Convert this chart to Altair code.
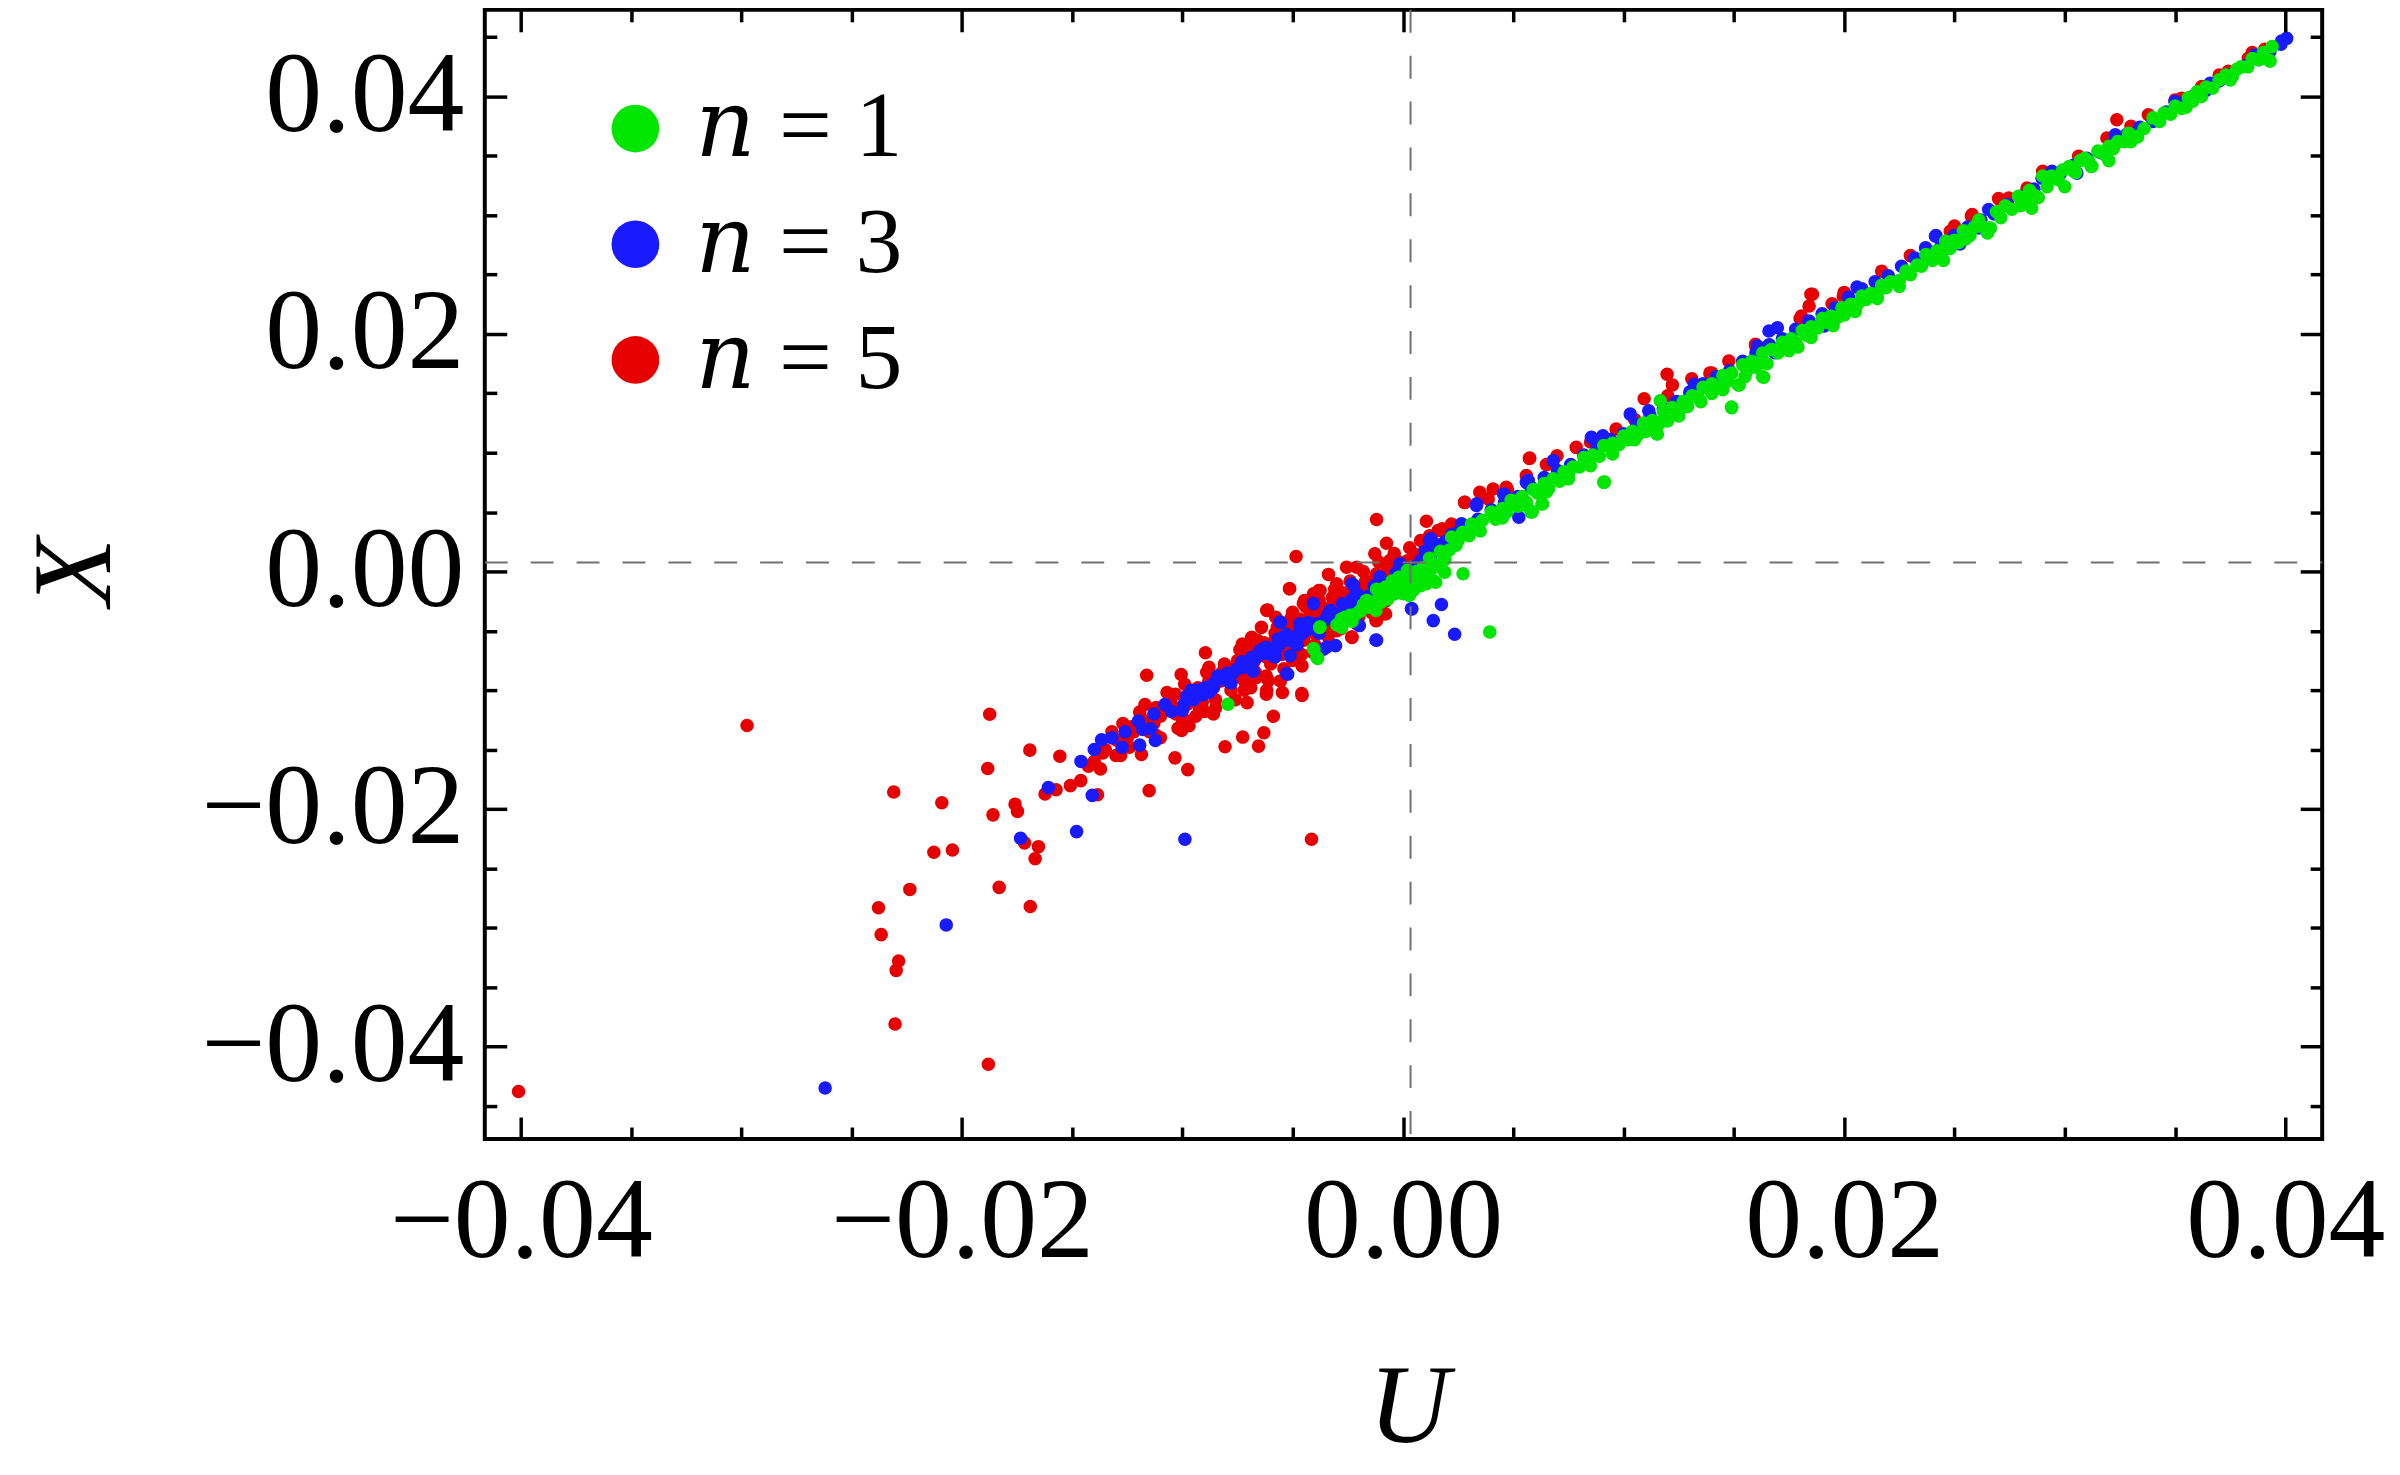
import altair as alt
import pandas as pd

# ---------------- data ----------------
series_labels = ["\U0001D45B = 1", "\U0001D45B = 3", "\U0001D45B = 5"]
series_colors = ["#00e600", "#1a1aff", "#e60000"]

x_major = [-0.04, -0.02, 0.0, 0.02, 0.04]
y_major = [-0.04, -0.02, 0.0, 0.02, 0.04]
x_ticks = [-0.04, -0.035, -0.03, -0.025, -0.02, -0.015, -0.01, -0.005, 0.0,
           0.005, 0.01, 0.015, 0.02, 0.025, 0.03, 0.035, 0.04]
y_ticks = [-0.045, -0.04, -0.035, -0.03, -0.025, -0.02, -0.015, -0.01, -0.005, 0.0,
           0.005, 0.01, 0.015, 0.02, 0.025, 0.03, 0.035, 0.04, 0.045]
u_domain = [-0.04163, 0.04167]
x_domain = [-0.0478, 0.0473]
u_ref = [0.00034]
x_ref = [0.00076]

# n = 1 (green)
n1_points = [
    (-0.00794, -0.01119), (0.00393, -0.00510),
    (-0.00406, -0.00650), (-0.00391, -0.00720), (-0.00387, -0.00733), (-0.00404, -0.00654),
    (-0.00378, -0.00471), (-0.00376, -0.00468), (-0.00278, -0.00471), (-0.00263, -0.00386),
    (-0.00256, -0.00412), (-0.00231, -0.00419), (-0.00215, -0.00360), (-0.00190, -0.00330),
    (-0.00166, -0.00245), (-0.00155, -0.00301), (-0.00135, -0.00300), (-0.00123, -0.00329),
    (-0.00165, -0.00244), (-0.00100, -0.00260), (-0.00075, -0.00216), (-0.00068, -0.00231),
    (-0.00079, -0.00132), (-0.00040, -0.00190), (0.00001, -0.00188), (0.00029, -0.00203),
    (0.00046, -0.00160), (0.00051, -0.00146), (0.00080, -0.00120), (0.00106, -0.00104),
    (0.00137, -0.00076), (0.00148, -0.00090), (0.00001, -0.00048), (0.00040, -0.00040),
    (0.00189, -0.00006), (0.00272, -0.00020), (0.00160, 0.00060), (-0.00120, -0.00150),
    (-0.00050, -0.00080), (0.00020, 0.00010), (0.00090, 0.00030), (0.00120, 0.00110),
    (0.00170, 0.00170),
    (-0.0030, -0.0045), (-0.0028, -0.0040), (-0.0024, -0.0037), (-0.0020, -0.0034),
    (-0.0018, -0.0028), (-0.0014, -0.0026), (-0.0011, -0.0022), (-0.0008, -0.0018),
    (-0.0004, -0.0014), (0.0000, -0.0010), (0.0004, -0.0006), (0.0008, -0.0003),
    (0.0012, 0.0000), (0.0016, 0.0004), (0.0019, 0.0010), (0.0021, 0.0018), (0.0024, 0.0022),
    (0.0013, 0.0006), (0.0006, 0.0000), (-0.0002, -0.0005),
    (0.0022, 0.0029), (0.0027, 0.0033), (0.0031, 0.0040), (0.0036, 0.0043), (0.0040, 0.0050),
    (0.0045, 0.0053), (0.0049, 0.0060), (0.0054, 0.0063), (0.0058, 0.0050), (0.0059, 0.0069),
    (0.0063, 0.0057), (0.0064, 0.0074), (0.0068, 0.0078), (0.0073, 0.0084), (0.0077, 0.0088),
    (0.0082, 0.0096), (0.0086, 0.0098), (0.0091, 0.0075), (0.0091, 0.0106), (0.0095, 0.0108),
    (0.0100, 0.0114), (0.0104, 0.0118), (0.0109, 0.0125), (0.0113, 0.0127), (0.0115, 0.0116),
    (0.0118, 0.0135), (0.0120, 0.0127), (0.0122, 0.0138), (0.0127, 0.0143), (0.0131, 0.0148),
    (0.0136, 0.0155), (0.0140, 0.0158), (0.0145, 0.0165), (0.0149, 0.0138), (0.0149, 0.0167),
    (0.0152, 0.0157), (0.0154, 0.0174), (0.0158, 0.0177), (0.0163, 0.0164), (0.0163, 0.0184),
    (0.0167, 0.0187), (0.0172, 0.0193), (0.0176, 0.0196), (0.0179, 0.0189), (0.0181, 0.0203),
    (0.0185, 0.0206), (0.0190, 0.0213), (0.0194, 0.0215), (0.0199, 0.0222), (0.0203, 0.0225),
    (0.0208, 0.0232), (0.0212, 0.0234), (0.0217, 0.0241), (0.0221, 0.0244), (0.0225, 0.0245),
    (0.0228, 0.0253), (0.0233, 0.0258), (0.0237, 0.0267), (0.0242, 0.0270), (0.0246, 0.0278),
    (0.0250, 0.0279), (0.0254, 0.0287), (0.0259, 0.0290), (0.0261, 0.0296), (0.0266, 0.0289),
    (0.0269, 0.0303), (0.0273, 0.0308), (0.0279, 0.0316), (0.0284, 0.0321), (0.0288, 0.0315),
    (0.0290, 0.0333), (0.0294, 0.0333), (0.0299, 0.0338), (0.0302, 0.0341), (0.0307, 0.0346),
    (0.0309, 0.0348), (0.0312, 0.0341), (0.0315, 0.0354), (0.0320, 0.0358), (0.0324, 0.0362),
    (0.0329, 0.0369), (0.0333, 0.0366), (0.0340, 0.0382), (0.0345, 0.0386), (0.0350, 0.0392),
    (0.0356, 0.0399), (0.0360, 0.0404), (0.0364, 0.0408), (0.0370, 0.0414), (0.0373, 0.0418),
    (0.0378, 0.0423), (0.0380, 0.0425), (0.0385, 0.0432), (0.0390, 0.0437), (0.0393, 0.0430),
    (0.0394, 0.0442),
    (0.0030, 0.0030), (0.0042, 0.0044), (0.0052, 0.0055), (0.0066, 0.0070), (0.0080, 0.0088),
    (0.0095, 0.0102), (0.0110, 0.0118), (0.0125, 0.0133), (0.0140, 0.0150), (0.0160, 0.0172),
    (0.0175, 0.0189), (0.0200, 0.0216), (0.0230, 0.0250), (0.0255, 0.0280), (0.0280, 0.0308),
    (0.0305, 0.0336), (0.0330, 0.0362), (0.0355, 0.0391), (0.0375, 0.0414),
    (0.0025, 0.0026), (0.0034, 0.0036), (0.0047, 0.0050), (0.0056, 0.0058), (0.0061, 0.0066),
    (0.0071, 0.0076), (0.0075, 0.0082), (0.0084, 0.0091), (0.0089, 0.0097), (0.0098, 0.0107),
    (0.0102, 0.0111), (0.0107, 0.0116), (0.0117, 0.0126), (0.0124, 0.0135), (0.0129, 0.0139),
    (0.0134, 0.0146), (0.0143, 0.0155), (0.0147, 0.0160), (0.0156, 0.0169), (0.0161, 0.0175),
    (0.0170, 0.0184), (0.0178, 0.0193), (0.0183, 0.0199), (0.0188, 0.0205), (0.0192, 0.0210),
    (0.0197, 0.0214), (0.0206, 0.0225), (0.0210, 0.0229), (0.0215, 0.0234), (0.0219, 0.0239),
    (0.0235, 0.0257), (0.0240, 0.0262), (0.0244, 0.0268), (0.0248, 0.0272), (0.0252, 0.0277),
    (0.0257, 0.0283), (0.0263, 0.0290), (0.0271, 0.0298), (0.0276, 0.0305), (0.0282, 0.0312),
    (0.0286, 0.0317), (0.0292, 0.0324), (0.0297, 0.0330), (0.0304, 0.0337), (0.0311, 0.0345),
    (0.0318, 0.0351), (0.0322, 0.0356), (0.0327, 0.0362), (0.0336, 0.0373), (0.0343, 0.0379),
    (0.0348, 0.0385), (0.0353, 0.0390), (0.0358, 0.0396), (0.0362, 0.0400), (0.0367, 0.0407),
    (0.0376, 0.0417), (0.0383, 0.0425), (0.0388, 0.0431),
    (0.0035, 0.0034), (0.0045, 0.0045), (0.0055, 0.0056), (0.0065, 0.0067), (0.0075, 0.0078),
    (0.0085, 0.0089), (0.0095, 0.0099), (0.0105, 0.0111), (0.0115, 0.0121), (0.0125, 0.0131),
    (0.0135, 0.0143), (0.0145, 0.0153), (0.0155, 0.0164), (0.0165, 0.0175), (0.0175, 0.0186),
    (0.0185, 0.0197), (0.0195, 0.0207), (0.0205, 0.0219), (0.0215, 0.0230), (0.0225, 0.0240),
    (0.0245, 0.0262), (0.0265, 0.0285), (0.0285, 0.0306), (0.0300, 0.0324), (0.0320, 0.0346),
    (0.00913, 0.00754), (0.01489, 0.01384), (0.01524, 0.01571), (0.01635, 0.01636),
    (0.01789, 0.01893), (0.00586, 0.00504), (0.00632, 0.00569), (0.01153, 0.01157),
    (0.01195, 0.01269), (0.01166, 0.01437), (0.03930, 0.04300), (0.03123, 0.03412),
    (0.03327, 0.03664), (0.02663, 0.02893),
]

# n = 3 (blue)
n3_points = [
    (-0.0262, -0.0435), (-0.02071, -0.02977), (-0.01734, -0.02247), (-0.01480, -0.02191),
    (-0.00989, -0.02255), (-0.01608, -0.01821), (-0.01409, -0.01886), (-0.01367, -0.01418),
    (-0.01274, -0.01480), (-0.01194, -0.01463), (-0.01144, -0.01325), (-0.01123, -0.01424),
    (-0.01180, -0.01330), (-0.01050, -0.01180),
    (-0.00993, -0.01119), (-0.01000, -0.01170), (-0.00924, -0.01020), (-0.00859, -0.00978),
    (-0.00794, -0.00922), (-0.00729, -0.00808), (-0.00686, -0.00724), (-0.00620, -0.00639),
    (-0.00567, -0.00569), (-0.00523, -0.00866), (-0.00512, -0.00710), (-0.00556, -0.00428),
    (-0.00469, -0.00498), (-0.00404, -0.00442), (-0.00339, -0.00358), (-0.00306, -0.00625),
    (-0.00361, -0.00654), (-0.00274, -0.00273), (-0.00209, -0.00188), (-0.00123, -0.00577),
    (0.00040, -0.00315), (0.00137, -0.00414), (0.00174, -0.00279), (-0.00198, -0.00456),
    (-0.00231, -0.00104), (0.00038, -0.00314), (0.00234, -0.00529), (-0.00120, -0.00580),
    (-0.00225, -0.00118), (-0.00346, -0.00636), (-0.00527, -0.00860), (-0.00557, -0.00426),
    (-0.00648, -0.00664), (0.00121, 0.00260), (0.00333, 0.00555), (0.00461, 0.00639),
    (0.00559, 0.00750), (0.00272, 0.00387), (-0.00014, 0.00065), (-0.00105, -0.00048),
    (-0.00406, -0.00271), (-0.00467, -0.00440),
    (-0.0090, -0.0098), (-0.0085, -0.0093), (-0.0080, -0.0086), (-0.0075, -0.0082),
    (-0.0070, -0.0077), (-0.0065, -0.0070), (-0.0060, -0.0066), (-0.0055, -0.0060),
    (-0.0050, -0.0056), (-0.0045, -0.0051), (-0.0040, -0.0046), (-0.0035, -0.0040),
    (-0.0030, -0.0036), (-0.0025, -0.0031), (-0.0020, -0.0026), (-0.0015, -0.0020),
    (-0.0010, -0.0014), (-0.0005, -0.0008), (0.0000, -0.0002), (0.0005, 0.0004),
    (-0.0095, -0.0108), (-0.0088, -0.0102), (-0.0078, -0.0094), (-0.0068, -0.0084),
    (-0.0058, -0.0072), (-0.0048, -0.0062), (-0.0038, -0.0052), (-0.0028, -0.0043),
    (-0.0098, -0.0105), (-0.0093, -0.0100), (-0.0087, -0.0096), (-0.0082, -0.0090),
    (-0.0077, -0.0085), (-0.0072, -0.0079), (-0.0067, -0.0074), (-0.0062, -0.0069),
    (-0.0057, -0.0064), (-0.0052, -0.0058), (-0.0047, -0.0054), (-0.0042, -0.0048),
    (-0.0037, -0.0043), (-0.0032, -0.0038), (-0.0027, -0.0033), (-0.0022, -0.0028),
    (-0.0017, -0.0022), (-0.0012, -0.0016), (-0.0007, -0.0011), (-0.0002, -0.0005),
    (-0.0096, -0.0100), (-0.0091, -0.0104), (-0.0084, -0.0088), (-0.0079, -0.0092),
    (-0.0073, -0.0076), (-0.0069, -0.0082), (-0.0063, -0.0065), (-0.0059, -0.0071),
    (-0.0053, -0.0053), (-0.0049, -0.0060), (-0.0043, -0.0043), (-0.0039, -0.0050),
    (-0.0033, -0.0033), (-0.0029, -0.0040), (-0.0023, -0.0023), (-0.0019, -0.0030),
    (-0.0013, -0.0012), (-0.0009, -0.0019), (-0.0003, -0.0001), (0.0002, -0.0008),
    (-0.0108, -0.0112), (-0.0113, -0.0120), (-0.0120, -0.0126), (-0.0126, -0.0135),
    (-0.0132, -0.0140), (-0.0140, -0.0150), (-0.0146, -0.0160),
    (0.0003, 0.0001), (0.0008, 0.0009), (0.0013, 0.0015), (0.0019, 0.0025), (0.0025, 0.0033),
    (0.0034, 0.0044), (0.0046, 0.0058), (0.0058, 0.0071), (0.0070, 0.0085), (0.0082, 0.0098),
    (0.0094, 0.0111), (0.0106, 0.0124), (0.0118, 0.0137), (0.0130, 0.0151), (0.0142, 0.0164),
    (0.0154, 0.0177), (0.0166, 0.0191), (0.0178, 0.0204), (0.0190, 0.0217), (0.0202, 0.0231),
    (0.0214, 0.0244), (0.0226, 0.0257), (0.0238, 0.0270), (0.0250, 0.0283), (0.0262, 0.0296),
    (0.0274, 0.0309), (0.0286, 0.0322), (0.0298, 0.0335), (0.0310, 0.0348), (0.0322, 0.0361),
    (0.0334, 0.0374), (0.0346, 0.0387), (0.0358, 0.0400), (0.0370, 0.0413), (0.0382, 0.0426),
    (0.0393, 0.0438),
    (0.0010, 0.0017), (0.0016, 0.0022), (0.0022, 0.0031), (0.0028, 0.0036), (0.0040, 0.0052),
    (0.0052, 0.0063), (0.0064, 0.0079), (0.0076, 0.0090), (0.0088, 0.0105), (0.0100, 0.0116),
    (0.0112, 0.0131), (0.0124, 0.0143), (0.0136, 0.0158), (0.0148, 0.0169), (0.0160, 0.0184),
    (0.0172, 0.0196), (0.0184, 0.0211), (0.0196, 0.0222), (0.0208, 0.0238), (0.0220, 0.0249),
    (0.0232, 0.0264), (0.0244, 0.0275), (0.0256, 0.0290), (0.0268, 0.0301), (0.0280, 0.0316),
    (0.0292, 0.0328), (0.0304, 0.0342), (0.0316, 0.0353), (0.0328, 0.0368), (0.0340, 0.0379),
    (0.0352, 0.0394), (0.0364, 0.0405), (0.0376, 0.0419), (0.0388, 0.0431), (0.0398, 0.0444),
    (0.00334, 0.00569), (0.00568, 0.00765), (0.00681, 0.00933), (0.00854, 0.01129),
    (0.00906, 0.01143), (0.01030, 0.01325), (0.01114, 0.01353), (0.01321, 0.01577),
    (0.01607, 0.01899), (0.01659, 0.02025), (0.01697, 0.02053), (0.01910, 0.02067),
    (0.02058, 0.02395), (0.02416, 0.02829), (0.02525, 0.02759), (0.02655, 0.03048),
    (0.00126, 0.00275), (0.00265, 0.00401), (0.00456, 0.00653), (0.00525, 0.00456),
    (0.01685, 0.01843), (0.04006, 0.04490), (0.03983, 0.04468), (0.03862, 0.04350),
    (0.03659, 0.04112), (0.03500, 0.03958), (0.03055, 0.03355), (0.02942, 0.03370),
    (0.02897, 0.03313), (0.02610, 0.02893), (0.02520, 0.02781), (0.02414, 0.02823),
    (0.02369, 0.02725), (0.03229, 0.03678), (0.03741, 0.04157),
]

# n = 5 (red)
n5_points = [
    (-0.0401, -0.0438), (-0.02974, -0.01297), (-0.01874, -0.01203), (-0.01883, -0.01660),
    (-0.01692, -0.01505), (-0.01556, -0.01556), (-0.02309, -0.01858), (-0.02091, -0.01948),
    (-0.01859, -0.02050), (-0.01759, -0.01960), (-0.01748, -0.02021), (-0.01716, -0.02286),
    (-0.01653, -0.02318), (-0.01668, -0.02419), (-0.02127, -0.02365), (-0.02043, -0.02346),
    (-0.02236, -0.02678), (-0.01831, -0.02661), (-0.01690, -0.02822), (-0.02378, -0.02833),
    (-0.02366, -0.03059), (-0.02287, -0.03281), (-0.02298, -0.03360), (-0.02303, -0.03812),
    (-0.0188, -0.0415), (-0.00415, -0.02255), (-0.01151, -0.01846), (-0.00976, -0.01669),
    (-0.01034, -0.01570), (-0.00807, -0.01477), (-0.00727, -0.01395), (-0.00655, -0.01471),
    (-0.00631, -0.01359), (-0.00588, -0.01220), (-0.00707, -0.01105), (-0.00620, -0.01034),
    (-0.00547, -0.01020), (-0.00458, -0.01045), (-0.01004, -0.01339), (-0.01162, -0.00874),
    (-0.01006, -0.00868), (-0.00896, -0.00685), (-0.00514, -0.00146), (-0.00614, -0.00324),
    (-0.00231, -0.00555),
    (-0.01385, -0.01881), (-0.01372, -0.01663), (-0.01426, -0.01640), (-0.01461, -0.01762),
    (-0.01508, -0.01804), (-0.01573, -0.01838), (-0.01623, -0.01875), (-0.01361, -0.01528),
    (-0.01302, -0.01550), (-0.01233, -0.01308), (-0.01194, -0.01184), (-0.01186, -0.01542),
    (-0.01119, -0.01147), (-0.01032, -0.01034), (-0.00978, -0.01260), (-0.00924, -0.01147),
    (-0.00880, -0.00808), (-0.00826, -0.00922), (-0.00729, -0.00612), (-0.00686, -0.00555),
    (-0.00642, -0.00471), (-0.00577, -0.00386), (-0.00501, -0.00344), (-0.00447, -0.00245),
    (-0.00382, -0.00161), (-0.00458, -0.00795), (-0.00556, -0.00922), (-0.00664, -0.00893),
    (-0.00123, -0.00414), (-0.00079, -0.00358),
    (-0.0125, -0.0140), (-0.0120, -0.0128), (-0.0115, -0.0135), (-0.0110, -0.0122),
    (-0.0105, -0.0112), (-0.0100, -0.0125), (-0.0095, -0.0105), (-0.0090, -0.0118),
    (-0.0088, -0.0092), (-0.0085, -0.0108), (-0.0082, -0.0085), (-0.0078, -0.0100),
    (-0.0075, -0.0075), (-0.0072, -0.0092), (-0.0070, -0.0068), (-0.0067, -0.0085),
    (-0.0063, -0.0060), (-0.0060, -0.0078), (-0.0058, -0.0052), (-0.0055, -0.0070),
    (-0.0052, -0.0048), (-0.0050, -0.0065), (-0.0047, -0.0040), (-0.0045, -0.0058),
    (-0.0042, -0.0035), (-0.0040, -0.0052), (-0.0037, -0.0030), (-0.0035, -0.0045),
    (-0.0032, -0.0022), (-0.0030, -0.0040), (-0.0027, -0.0018), (-0.0025, -0.0035),
    (-0.0022, -0.0012), (-0.0020, -0.0028), (-0.0017, -0.0008), (-0.0015, -0.0020),
    (-0.0012, -0.0002), (-0.0010, -0.0015), (-0.0007, 0.0003), (-0.0005, -0.0008),
    (-0.0002, 0.0008), (0.0000, -0.0002),
    (-0.0135, -0.0150), (-0.0130, -0.0142), (-0.0128, -0.0155), (-0.0122, -0.0135),
    (-0.0118, -0.0125), (-0.0113, -0.0128), (-0.0108, -0.0117), (-0.0103, -0.0120),
    (-0.0098, -0.0112), (-0.0093, -0.0098), (-0.0091, -0.0110), (-0.0087, -0.0100),
    (-0.0083, -0.0092), (-0.0080, -0.0080), (-0.0077, -0.0090), (-0.0073, -0.0083),
    (-0.0071, -0.0072), (-0.0068, -0.0078), (-0.0065, -0.0066), (-0.0062, -0.0072),
    (-0.0059, -0.0060), (-0.0056, -0.0064), (-0.0053, -0.0055), (-0.0049, -0.0050),
    (-0.0046, -0.0045), (-0.0043, -0.0047), (-0.0039, -0.0038), (-0.0036, -0.0035),
    (-0.0033, -0.0030), (-0.0029, -0.0026), (-0.0026, -0.0023), (-0.0023, -0.0019),
    (-0.0019, -0.0014), (-0.0016, -0.0012), (-0.0013, -0.0007), (-0.0009, -0.0004),
    (-0.0006, 0.0000), (-0.0003, 0.0004), (0.0002, 0.0009), (0.0006, 0.0014),
    (0.0010, 0.0019), (0.0014, 0.0024),
    (-0.0110, -0.0140), (-0.0097, -0.0130), (-0.0085, -0.0115), (-0.0072, -0.0100),
    (-0.0062, -0.0088), (-0.0050, -0.0075), (-0.0040, -0.0062), (-0.0030, -0.0050),
    (-0.0020, -0.0038),
    (-0.0140, -0.0160), (-0.0132, -0.0135), (-0.0127, -0.0128), (-0.0124, -0.0148),
    (-0.0117, -0.0112), (-0.0112, -0.0138), (-0.0107, -0.0102), (-0.0102, -0.0132),
    (-0.0099, -0.0095), (-0.0094, -0.0122), (-0.0089, -0.0085), (-0.0086, -0.0120),
    (-0.0081, -0.0078), (-0.0076, -0.0108), (-0.0074, -0.0066), (-0.0069, -0.0098),
    (-0.0066, -0.0058), (-0.0061, -0.0092), (-0.0057, -0.0047), (-0.0054, -0.0082),
    (-0.0051, -0.0040), (-0.0046, -0.0070), (-0.0044, -0.0030), (-0.0041, -0.0068),
    (-0.0038, -0.0024), (-0.0034, -0.0055), (-0.0031, -0.0015), (-0.0028, -0.0048),
    (-0.0024, -0.0008), (-0.0021, -0.0044), (-0.0018, 0.0000), (-0.0014, -0.0035),
    (-0.0011, 0.0008), (-0.0008, -0.0025), (-0.0004, 0.0015), (0.0003, 0.0020),
    (0.0008, 0.0026), (0.0012, 0.0030), (0.0018, 0.0034), (0.0022, 0.0040),
    (-0.00120, 0.00437), (-0.00485, 0.00126), (-0.00338, -0.00025), (-0.00515, -0.00146),
    (-0.00075, 0.00238), (-0.00128, 0.00149), (0.00106, 0.00423), (0.00280, 0.00582),
    (0.00574, 0.00955), (0.00468, 0.00708), (0.00159, 0.00345), (-0.00060, 0.00092),
    (-0.00210, 0.00036), (-0.00406, -0.00188), (-0.00452, -0.00271), (-0.00618, -0.00328),
    (-0.00120, -0.00412), (-0.00090, -0.00356), (-0.00233, -0.00552), (-0.00459, -0.01028),
    (-0.00618, -0.01000), (-0.00678, -0.00594), (-0.00376, -0.00160), (-0.00256, 0.00036),
    (-0.00301, -0.00104), (0.00348, 0.00667), (0.00408, 0.00695),
    (0.01849, 0.02334), (0.01856, 0.02334), (0.01841, 0.02235), (0.01806, 0.02151),
    (0.01197, 0.01661), (0.01221, 0.01571), (0.01093, 0.01454), (0.01309, 0.01622),
    (0.01391, 0.01670), (0.00573, 0.00952), (0.00279, 0.00582), (0.00386, 0.00611),
    (0.00473, 0.00695), (0.00559, 0.00807), (0.00698, 0.00975), (0.00785, 0.01045),
    (0.00966, 0.01199), (0.01477, 0.01773), (0.01598, 0.01913), (0.01945, 0.02255),
    (0.01996, 0.02319), (0.02170, 0.02529), (0.02481, 0.02865), (0.02577, 0.02991),
    (0.00178, 0.00359),
    (0.03236, 0.03804), (0.03191, 0.03650), (0.03379, 0.03846), (0.03907, 0.04397),
    (0.02580, 0.03006), (0.02490, 0.02865), (0.02746, 0.03145), (0.02829, 0.03229),
    (0.03063, 0.03496), (0.03741, 0.04213), (0.03832, 0.04322), (0.03530, 0.03986),
    (0.03621, 0.04084),
    (0.0085, 0.0109), (0.0105, 0.0128), (0.0140, 0.0167), (0.0160, 0.0189), (0.0200, 0.0235),
    (0.0230, 0.0266), (0.0250, 0.0291), (0.0290, 0.0337), (0.0330, 0.0375), (0.0350, 0.0397),
    (0.0370, 0.0418), (0.0385, 0.0437), (0.0065, 0.0090), (0.0120, 0.0148), (0.0180, 0.0213),
    (0.0270, 0.0314),
]

# ---------------- table ----------------
rows = []
for z, (label, pts) in enumerate([(series_labels[2], n5_points),
                                  (series_labels[1], n3_points),
                                  (series_labels[0], n1_points)]):
    for u, x in pts:
        rows.append({"U": u, "X": x, "n": label, "z": z})
df = pd.DataFrame(rows)

W, H = 1842, 1132
FONT = "Liberation Serif"
major_test = "abs(datum.value / 0.02 - round(datum.value / 0.02)) < 0.01"
tick_len = {"condition": {"test": major_test, "value": 22}, "value": 12}

xs = alt.Scale(domain=u_domain, nice=False, zero=False)
ys = alt.Scale(domain=x_domain, nice=False, zero=False)

base = alt.Chart(df)

points = base.mark_circle(size=185, opacity=1).encode(
    x=alt.X("U:Q", scale=xs, axis=alt.Axis(
        orient="bottom", values=x_major, format=".2f", ticks=False, tickSize=0,
        domain=False, grid=False, labelFont=FONT, labelFontSize=114,
        labelColor="black", labelPadding=28, labelFlush=False, labelOverlap=False,
        labelLimit=0,
        title="U", titleFont=FONT, titleFontSize=112, titleFontStyle="italic",
        titleFontWeight="normal", titleColor="black", titleX=926, titleY=269,
        titleBaseline="middle", titleAlign="center", titleAngle=0)),
    y=alt.Y("X:Q", scale=ys, axis=alt.Axis(
        orient="left", values=y_major, format=".2f", ticks=False, tickSize=0,
        domain=False, grid=False, labelFont=FONT, labelFontSize=114,
        labelColor="black", labelPadding=21, labelFlush=False, labelOverlap=False,
        labelLimit=0,
        title="X", titleFont=FONT, titleFontSize=112, titleFontStyle="italic",
        titleFontWeight="normal", titleColor="black", titleX=-410, titleY=563,
        titleBaseline="middle", titleAlign="center", titleAngle=270)),
    color=alt.Color("n:N", scale=alt.Scale(domain=series_labels, range=series_colors),
                    legend=alt.Legend(orient="none", legendX=104, legendY=72, title=None,
                                      symbolType="circle", symbolSize=2290,
                                      symbolStrokeWidth=0, symbolOpacity=1,
                                      labelFont="Liberation Serif, DejaVu Serif",
                                      labelFontSize=94, labelColor="black",
                                      labelOffset=13, rowPadding=22, padding=0,
                                      labelLimit=0)),
    order=alt.Order("z:Q"),
)

tick_style = dict(labels=False, domain=False, grid=False, ticks=True, tickSize=tick_len,
                  tickWidth=3.5, tickColor="black", title=None, zindex=1)

ticks_a = base.mark_circle(opacity=0).encode(
    x=alt.X("U:Q", scale=xs, axis=alt.Axis(orient="top", offset=-H, values=x_ticks, **tick_style)),
    y=alt.Y("X:Q", scale=ys, axis=alt.Axis(orient="right", offset=-W, values=y_ticks, **tick_style)),
)
ticks_b = base.mark_circle(opacity=0).encode(
    x=alt.X("U:Q", scale=xs, axis=alt.Axis(orient="bottom", offset=-H, values=x_ticks, **tick_style)),
    y=alt.Y("X:Q", scale=ys, axis=alt.Axis(orient="left", offset=-W, values=y_ticks, **tick_style)),
)

vrule = alt.Chart(pd.DataFrame({"U": u_ref})).mark_rule(
    color="#707070", strokeWidth=2, strokeDash=[23, 23]
).encode(x=alt.X("U:Q", scale=xs, axis=None))
hrule = alt.Chart(pd.DataFrame({"X": x_ref})).mark_rule(
    color="#707070", strokeWidth=2, strokeDash=[23, 23], strokeDashOffset=21
).encode(y=alt.Y("X:Q", scale=ys, axis=None))

chart = alt.layer(points, vrule, hrule, ticks_a, ticks_b).resolve_axis(
    x="independent", y="independent"
).properties(
    width=W, height=H,
    autosize=alt.AutoSizeParams(type="none"),
    padding={"left": 478, "top": 0, "right": 70, "bottom": 330},
    background="white",
).configure_view(stroke="black", strokeWidth=4)

chart.save("out.html", embed_options={"renderer": "svg", "actions": False})
